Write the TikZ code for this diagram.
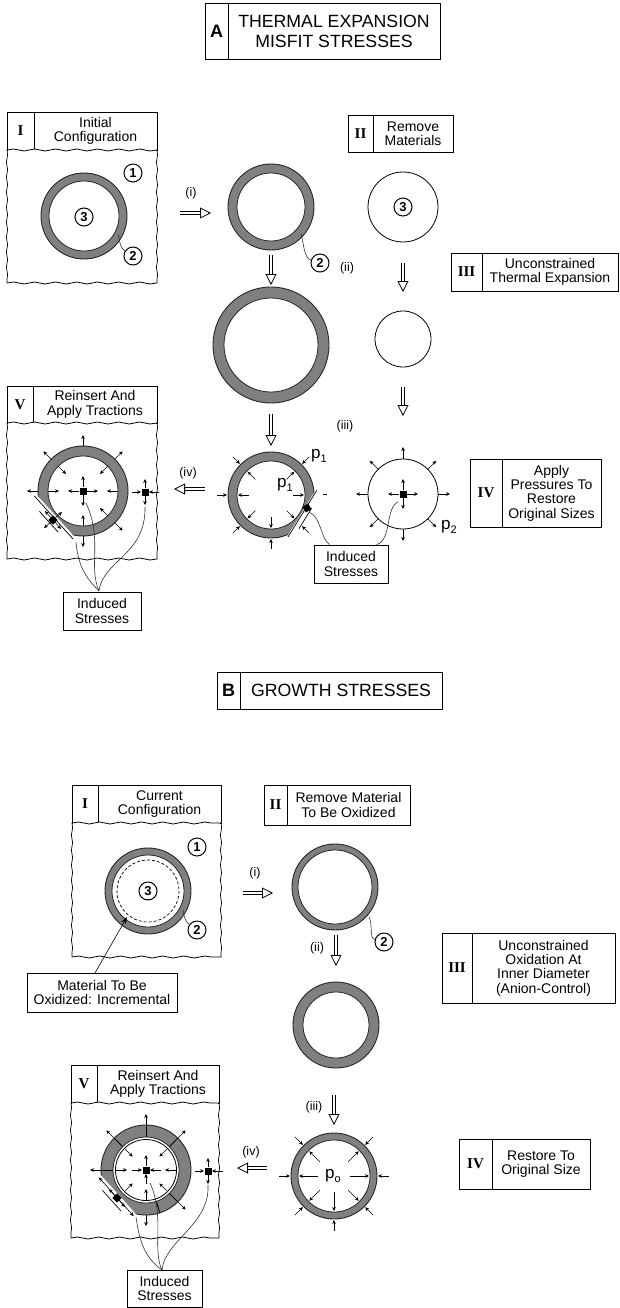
\documentclass[tikz,border=0pt]{standalone}
\usepackage{fontspec}
\setmainfont{Liberation Sans}
\newfontfamily\romfont{Liberation Serif}
\usetikzlibrary{arrows.meta,calc,decorations.pathmorphing}
\tikzset{
  cell/.style={draw,line width=.8pt,inner sep=0pt,align=center,fill=white,font=\fontsize{14}{14.3}\selectfont},
  romcell/.style={cell,font=\romfont\bfseries\fontsize{15}{15}\selectfont},
  titlefont/.style={font=\fontsize{17.7}{18}\selectfont},
  wavy/.style={line width=.8pt,decorate,decoration={snake,amplitude=1,segment length=21}},
  wavyside/.style={line width=.7pt,decorate,decoration={snake,amplitude=.6,segment length=15}},
  ringo/.style={circle,draw=black!85,line width=.9pt,fill=black!50,inner sep=0pt},
  ringi/.style={circle,draw=black!85,line width=.8pt,fill=white,inner sep=0pt},
  plainc/.style={circle,draw,line width=.8pt,fill=white,inner sep=0pt},
  numc/.style={circle,draw,line width=1pt,fill=white,inner sep=0pt,minimum size=18pt,font=\bfseries\fontsize{13}{13}\selectfont},
  lab/.style={inner sep=0pt,font=\fontsize{12.5}{12.5}\selectfont},
  plab/.style={inner sep=0pt,font=\fontsize{17}{17}\selectfont},
  bigarrow/.style={double,double distance=2.4pt,line width=.7pt,-{Triangle[open,fill=white,length=11pt,width=11pt,line width=.8pt]}},
  sa/.style={line width=.55pt,-{Stealth[length=4pt,width=3.6pt]}},
  saa/.style={line width=.6pt,{Stealth[length=4pt,width=3.5pt]}-{Stealth[length=4pt,width=3.5pt]}},
  lead/.style={line width=.6pt,black!80},
  sq/.style={fill=black,inner sep=0pt,minimum size=7pt},
}
\newcommand{\hdr}[9]{%
 % name x1 x2 x3 y1 y2 numeral text style-of-text
 \pgfmathsetmacro\wa{#3-#2}\pgfmathsetmacro\wb{#4-#3}\pgfmathsetmacro\hh{#6-#5}%
 \pgfmathsetmacro\xa{(#2+#3)/2}\pgfmathsetmacro\xb{(#3+#4)/2}\pgfmathsetmacro\ym{(#5+#6)/2}%
 \node[romcell,minimum width=\wa pt,minimum height=\hh pt] (#1n) at (\xa,\ym) {#7};
 \node[cell,#9,minimum width=\wb pt,minimum height=\hh pt] (#1t) at (\xb,\ym) {#8};
}
\newcommand{\panelbody}[5]{% x1 x3 ytop ybot name
 \draw[white,line width=1.6pt] ($(#1,#3)+(.6,0)$) -- ($(#2,#3)+(-.6,0)$);
 \draw[wavyside] (#1,#3) -- (#1,#4);
 \draw[wavyside] (#2,#3) -- (#2,#4);
 \draw[wavy] (#1,#3) -- (#2,#3);
 \draw[wavy] (#1,#4) -- (#2,#4);
}
\newcommand{\ring}[5]{% name x y Router Rinner
 \pgfmathsetmacro\da{2*#4}\pgfmathsetmacro\db{2*#5}%
 \node[ringo,minimum size=\da pt] (#1) at (#2,#3) {};
 \node[ringi,minimum size=\db pt] (#1i) at (#2,#3) {};
}
\newcommand{\radials}[4]{% node angles r1 r2
 \foreach \aa in {#2} {\draw[sa] ($(#1.center)+(\aa:#3)$) -- ($(#1.center)+(\aa:#4)$);}
}
\newcommand{\cutaway}[4]{% node angle d hfl
 \fill[white] ($(#1.center)+(#2:#3)+(#2+90:#4)$) -- ($(#1.center)+(#2:#3)+(#2-90:#4)$) -- ($(#1.center)+(#2:#3+12)+(#2-90:#4)$) -- ($(#1.center)+(#2:#3+12)+(#2+90:#4)$) -- cycle;
}
\newcommand{\slitline}[6]{% node angle d h1 h2 style
 \draw[#6] ($(#1.center)+(#2:#3)+(#2+90:#4)$) -- ($(#1.center)+(#2:#3)+(#2-90:#5)$);
}
\newcommand{\psub}[1]{p\raisebox{-4pt}{\fontsize{11}{11}\selectfont #1}}
\newcommand{\lettr}[1]{{\sffamily\fontspec{Liberation Sans}\bfseries\fontsize{18}{18}\selectfont #1}}
\begin{document}
\begin{tikzpicture}[x=1pt,y=-1pt]
\useasboundingbox (0,0) rectangle (620,1308);
\fill[white] (0,0) rectangle (620,1308);
% ===== Title A
\hdr{ta}{205}{228}{440}{3}{59}{\lettr{A}}{THERMAL EXPANSION\\[2pt]MISFIT STRESSES}{titlefont}
% ===== A I
\hdr{ai}{7}{34}{157}{112}{150}{I}{Initial\\Configuration}{}
\panelbody{7}{157}{150}{283}{aip}
\ring{aiR}{84}{216}{43}{35}
\node[numc] (ai1) at (133,173) {1};
\node[numc] (ai3) at (84,217) {3};
\node[numc] (ai2) at (133,256) {2};
\coordinate (aiL) at (118,234);
\draw[lead] (aiL) .. controls (120,242) and (120,248) .. (ai2);
% A i arrow
\node[lab] (li) at (191,193) {(i)};
\coordinate (a1s) at (180,213); \coordinate (a1e) at (211,213);
\draw[bigarrow] (a1s) -- (a1e);
% ring II
\ring{aiiR}{271}{207}{43}{34}
\node[numc] (aii2) at (320,263) {2};
\coordinate (aiiL) at (301,233);
\draw[lead] (aiiL) .. controls (304,245) and (304,258) .. (aii2);
\node[lab] (lii) at (347,268) {(ii)};
\coordinate (a2s) at (271,255); \coordinate (a2e) at (271,285);
\draw[bigarrow] (a2s) -- (a2e);
\ring{abigR}{271}{345}{58}{47}
\coordinate (a3s) at (271,414); \coordinate (a3e) at (271,446);
\draw[bigarrow] (a3s) -- (a3e);
% A II
\hdr{aii}{348}{373}{453}{115}{152}{II}{Remove\\Materials}{}
\node[plainc,minimum size=70pt] (aiiiC) at (403,207) {};
\node[numc] (aiii3) at (403,207) {3};
\coordinate (a4s) at (403,263); \coordinate (a4e) at (403,292);
\draw[bigarrow] (a4s) -- (a4e);
\hdr{aiii}{451}{482}{618}{253}{291}{III}{Unconstrained\\Thermal Expansion}{}
\node[plainc,minimum size=56pt] (asmall) at (403,339) {};
\coordinate (a5s) at (403,387); \coordinate (a5e) at (403,416);
\draw[bigarrow] (a5s) -- (a5e);
\node[lab] (liii) at (345,426) {(iii)};
% A IV ring left
\ring{aivR}{271}{495}{43}{34}
\cutaway{aivR}{31.7}{35.5}{28}
\radials{aivR}{90,135,180,225,315,45}{54}{44}
\radials{aivR}{0,90,135,180,225,315,45}{22}{33}
\slitline{aivR}{31.7}{36.5}{27}{28}{line width=.7pt}
\slitline{aivR}{31.7}{41.5}{14}{10}{line width=.7pt}
\node[sq,rotate=32,minimum size=6.5pt] (aivE) at (307,508) {};
\coordinate (adasha) at (323,494); \coordinate (adashb) at (327,494);
\draw[line width=.8pt] (adasha) -- (adashb);
\node[plab] (p1o) at (319,456) {\psub{1}};
\node[plab] (p1i) at (285,485) {\psub{1}};
% A IV circle right
\node[plainc,minimum size=70pt] (aivC) at (403,494) {};
\radials{aivC}{0,45,90,135,180,225,270,315}{35}{47}
\node[sq] (aivS) at (403,494) {};
\radials{aivS}{0,90,180,270}{4}{15}
\node[plab] (p2) at (449,527) {\psub{2}};
\hdr{aiv}{470}{502}{601}{459}{527}{IV}{Apply\\Pressures To\\Restore\\Original Sizes}{}
\node[cell,minimum width=74pt,minimum height=38pt] (aind) at (351,564) {Induced\\Stresses};
\coordinate (ac1) at ($(aind.north west)+(16,0)$);
\coordinate (ac2) at ($(aind.north west)+(63,0)$);
\coordinate (ac1e) at (309,512); \coordinate (ac2e) at (398,502);
\draw[lead] (ac1) .. controls (320,538) and (322,518) .. (ac1e);
\draw[lead] (ac2) .. controls (392,540) and (385,508) .. (ac2e);
% iv arrow
\node[lab] (liv) at (188,473) {(iv)};
\coordinate (a6s) at (205,489); \coordinate (a6e) at (174,489);
\draw[bigarrow] (a6s) -- (a6e);
% A V
\hdr{av}{7}{33}{157}{386}{423}{V}{Reinsert And\\Apply Tractions}{}
\panelbody{7}{157}{423}{559}{avp}
\ring{avR}{83}{491}{45}{35}
\cutaway{avR}{138}{37}{32}
\radials{avR}{270,225,315,180,90,45}{45}{56}
\radials{avR}{225,315,180,90,45,0}{35}{24}
\slitline{avR}{138}{39.5}{29}{29}{line width=.7pt}
\slitline{avR}{138}{46}{14}{14}{line width=.7pt}
\node[sq,rotate=45,minimum size=6.5pt] (avE) at (53,520) {};
\radials{avE}{48,138,228,318}{3}{12}
\node[sq] (avS) at (83,491) {};
\radials{avS}{0,90,180,270}{4}{15}
\node[sq] (avT) at (145,492) {};
\draw[sa] ($(avT.center)+(-13,0)$) -- ($(avT.center)+(-4,0)$);
\draw[sa] ($(avT.center)+(14,0)$) -- ($(avT.center)+(4,0)$);
\radials{avT}{90,270}{4}{13}
\node[cell,minimum width=78pt,minimum height=38pt] (avind) at (102,611) {Induced\\Stresses};
\coordinate (avc) at (99,591);
\coordinate (avc1) at (76,542); \coordinate (avc2) at (86,503); \coordinate (avc3) at (145,507);
\draw[lead] (avc) .. controls (85,577) and (78,565) .. (avc1);
\draw[lead] (avc) .. controls (88,565) and (103,540) .. (avc2);
\draw[lead] (avc) .. controls (103,560) and (146,555) .. (avc3);
% ===== Title B
\hdr{tb}{217}{240}{442}{672}{709}{\lettr{B}}{GROWTH STRESSES}{titlefont}
% ===== B I
\hdr{bi}{72}{98}{221}{785}{823}{I}{Current\\Configuration}{}
\panelbody{72}{221}{823}{957}{bip}
\ring{biR}{148}{891}{43}{36}
\draw[line width=.7pt,densely dashed] (biR.center) circle[radius=31];
\node[numc] (bi1) at (197,847) {1};
\node[numc] (bi3) at (148,891) {3};
\node[numc] (bi2) at (197,930) {2};
\coordinate (biL) at (183,910);
\draw[lead] (biL) .. controls (184,918) and (186,922) .. (bi2);
\node[cell,minimum width=150pt,minimum height=39pt] (bmat) at (102,992.5) {Material To Be\\Oxidized: Incremental};
\coordinate (bmats) at (95,973); \coordinate (bmate) at (127,917);
\draw[line width=.6pt,-{Stealth[length=7pt,width=5pt]}] (bmats) -- (bmate);
% arrow i
\node[lab] (bli) at (255,873) {(i)};
\coordinate (b1s) at (243,893); \coordinate (b1e) at (273,893);
\draw[bigarrow] (b1s) -- (b1e);
% B II
\hdr{bii}{264}{287}{410}{785}{825}{II}{Remove Material\\To Be Oxidized}{}
\ring{biiR}{335}{887}{43}{37}
\node[numc] (bii2) at (384,942) {2};
\coordinate (biiL) at (369,917);
\draw[lead] (biiL) .. controls (373,925) and (369,938) .. (bii2);
\node[lab] (blii) at (317,948) {(ii)};
\coordinate (b2s) at (336,935); \coordinate (b2e) at (336,966);
\draw[bigarrow] (b2s) -- (b2e);
\ring{biiiR}{336}{1025}{43}{33}
\hdr{biii}{442}{472}{615}{933}{1003}{III}{Unconstrained\\Oxidation At\\Inner Diameter\\(Anion-Control)}{}
\node[lab] (bliii) at (314,1107) {(iii)};
\coordinate (b3s) at (334,1095); \coordinate (b3e) at (334,1125);
\draw[bigarrow] (b3s) -- (b3e);
% B IV
\ring{bivR}{334}{1176}{43}{36}
\radials{bivR}{0,45,90,135,180,225,315}{55}{44}
\radials{bivR}{0,180,90}{16}{35}
\radials{bivR}{45,135,225,315}{20}{35}
\node[plab] (po) at (333,1176) {\psub{o}};
\hdr{biv}{459}{492}{590}{1139}{1189}{IV}{Restore To\\Original Size}{}
\node[lab] (bliv) at (251,1152) {(iv)};
\coordinate (b4s) at (267,1168); \coordinate (b4e) at (237,1168);
\draw[bigarrow] (b4s) -- (b4e);
% B V
\hdr{bv}{71}{97}{219}{1065}{1103}{V}{Reinsert And\\Apply Tractions}{}
\panelbody{71}{219}{1103}{1238}{bvp}
\ring{bvR}{146}{1170}{45}{33}
\foreach \aa in {270,225,315,180,45,72} {\draw[line width=.9pt,black] ($(bvR.center)+(\aa:33)$) -- ($(bvR.center)+(\aa:45)$);}
\cutaway{bvR}{138}{37}{30}
\node[plainc,minimum size=61pt] (bvC) at (146,1170) {};
\radials{bvR}{270,225,315,180,90,45}{45}{56}
\radials{bvR}{225,315,180,90,45,135,0}{30}{19}
\slitline{bvR}{138}{40}{26}{26}{saa}
\slitline{bvR}{138}{46}{14}{14}{line width=.7pt}
\node[sq,rotate=45,minimum size=6.5pt] (bvE) at (117,1198) {};
\radials{bvE}{48,228}{3}{12}
\node[sq] (bvS) at (146,1170) {};
\draw[sa] ($(bvS.center)+(-14,0)$) -- ($(bvS.center)+(-4,0)$);
\draw[sa] ($(bvS.center)+(15,0)$) -- ($(bvS.center)+(4,0)$);
\draw[sa] ($(bvS.center)+(0,-4)$) -- ($(bvS.center)+(0,-15)$);
\draw[sa] ($(bvS.center)+(0,14)$) -- ($(bvS.center)+(0,4)$);
\node[sq] (bvT) at (208,1171) {};
\draw[sa] ($(bvT.center)+(-13,0)$) -- ($(bvT.center)+(-4,0)$);
\draw[sa] ($(bvT.center)+(15,0)$) -- ($(bvT.center)+(4,0)$);
\radials{bvT}{90,270}{4}{13}
\node[cell,minimum width=75pt,minimum height=37pt] (bvind) at (164.5,1288.5) {Induced\\Stresses};
\coordinate (bvc) at (162,1270);
\coordinate (bvc1) at (136,1217); \coordinate (bvc2) at (150,1183); \coordinate (bvc3) at (208,1185);
\draw[lead] (bvc) .. controls (146,1258) and (140,1245) .. (bvc1);
\draw[lead] (bvc) .. controls (152,1250) and (165,1215) .. (bvc2);
\draw[lead] (bvc) .. controls (165,1240) and (210,1225) .. (bvc3);
\end{tikzpicture}
\end{document}
